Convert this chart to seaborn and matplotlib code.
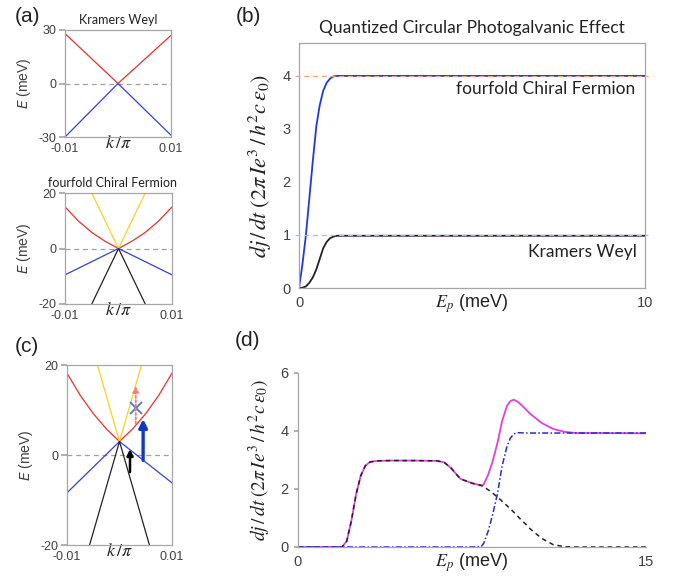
import matplotlib
matplotlib.use("Agg")
import matplotlib.pyplot as plt
import seaborn as sns

sns.set_theme(style="white")
plt.rcParams["font.family"] = ["Liberation Sans", "DejaVu Sans"]
plt.rcParams["mathtext.fontset"] = "stix"

# ---------------- data ----------------
# (a) Kramers Weyl bands
kw_k = [-0.01, 0.0, 0.01]
kw_upper = [28.0, 0.0, 27.0]
kw_lower = [-30.0, 0.0, -29.0]

# (a) fourfold chiral fermion bands
cf_k = [-0.01, -0.0075, -0.005, -0.0025, 0.0, 0.0025, 0.005, 0.0075, 0.01]
cf_red = [15.0, 9.9, 5.8, 2.6, 0.0, 2.6, 5.8, 9.9, 15.0]
cf_k_lin = [-0.01, 0.0, 0.01]
cf_blue = [-9.5, 0.0, -9.5]
cf_k_steep = [-0.005, 0.0, 0.005]
cf_yellow = [20.0, 0.0, 20.0]
cf_black = [-20.0, 0.0, -20.0]

# (c) shifted chiral fermion bands
c_k = [-0.01, -0.0075, -0.005, -0.0025, 0.0, 0.0025, 0.005, 0.0075, 0.01]
c_red = [18.2, 13.3, 9.2, 5.8, 3.0, 5.8, 9.2, 13.3, 18.2]
c_k_lin = [-0.01, 0.0, 0.01]
c_blue = [-8.4, 3.0, -6.2]
c_k_yellow = [-0.0042, 0.0, 0.0042]
c_yellow = [20.0, 3.0, 20.0]
c_k_black = [-0.0057, 0.0, 0.0057]
c_black = [-20.0, 3.0, -20.0]
# (c) transition arrows: k position, start energy, end energy
arrow_black = (0.002, -3.8, 1.3)
arrow_blue = (0.0045, -1.2, 8.0)
arrow_red = (0.0031, 7.0, 15.3)
cross_mark = (0.0031, 10.4)

# (b) quantized CPGE
b_ep = [0, 0.1, 0.2, 0.3, 0.4, 0.5, 0.6, 0.7, 0.8, 0.9, 1.0, 1.1, 1.2, 10]
b_fourfold = [0, 0.45, 1.0, 1.7, 2.4, 3.05, 3.45, 3.72, 3.87, 3.95, 3.99, 4.0, 4.0, 4.0]
b_kramers = [0, 0.005, 0.03, 0.1, 0.2, 0.35, 0.55, 0.75, 0.87, 0.94, 0.97, 0.985, 0.985, 0.985]
b_levels = [4, 1]

# (d) CPGE with shifted node
d_ep = [0, 1.9, 2.1, 2.3, 2.5, 2.7, 2.9, 3.1, 3.4, 4.0, 5.0, 6.0, 6.3, 6.6, 7.0,
        7.5, 7.9, 8.0, 8.2, 8.4, 8.6, 8.8, 9.0, 9.15, 9.3, 9.45, 9.6, 9.8, 10.0,
        10.5, 11.0, 11.5, 12.0, 13.0, 15.0]
d_black = [0, 0, 0.2, 0.9, 1.8, 2.45, 2.8, 2.93, 2.97, 2.98, 2.98, 2.97, 2.92, 2.72, 2.35,
           2.2, 2.12, 2.08, 1.97, 1.85, 1.72, 1.58, 1.43, 1.32, 1.2, 1.08, 0.95, 0.8, 0.63,
           0.3, 0.08, 0.01, 0, 0, 0]
d_blue = [0, 0, 0, 0, 0, 0, 0, 0, 0, 0, 0, 0, 0, 0, 0,
          0, 0.02, 0.12, 0.55, 1.15, 1.85, 2.8, 3.45, 3.75, 3.9, 3.94, 3.94, 3.93, 3.93,
          3.93, 3.93, 3.93, 3.93, 3.93, 3.93]
d_magenta = [0, 0, 0.2, 0.9, 1.8, 2.45, 2.8, 2.93, 2.97, 2.98, 2.98, 2.97, 2.92, 2.72, 2.35,
             2.2, 2.12, 2.15, 2.5, 2.98, 3.6, 4.35, 4.85, 5.03, 5.08, 5.02, 4.92, 4.76, 4.6,
             4.28, 4.07, 3.97, 3.93, 3.93, 3.92]

# ---------------- styling ----------------
SPINE = "#a6a6a6"
TICK = "#404040"
RED = "#e8302a"
BLUE = "#3340d8"
YELLOW = "#f7d21e"
BLACK = "#222222"
YLAB = r"$dj\,/\,dt\;(2\pi\, I e^3\,/\,h^2 c\,\epsilon_0)$"

fig = plt.figure(figsize=(6.74, 5.80), dpi=100)
W, H = 674, 580


def add_ax(left, top, right, bottom):
    return fig.add_axes([left / W, 1 - bottom / H, (right - left) / W, (bottom - top) / H])


def style_band(ax, ylim, yticks):
    ax.set_xlim(-0.01, 0.01)
    ax.set_ylim(*ylim)
    ax.set_yticks(yticks)
    ax.set_yticklabels([str(t) for t in yticks])
    ax.set_xticks([-0.01, 0.01])
    ax.set_xticklabels(["-0.01", "0.01"])
    for s in ax.spines.values():
        s.set_color(SPINE)
        s.set_linewidth(0.9)
    ax.tick_params(axis="y", length=4, color=SPINE, labelsize=9, labelcolor=TICK, pad=2, left=True)
    ax.tick_params(axis="x", length=0, labelsize=9, labelcolor=TICK, pad=4)
    ax.axhline(0, color="#a0a0a0", ls=(0, (4, 3)), lw=0.9, zorder=1)
    ax.set_ylabel(r"$E$ (meV)", fontsize=10, color=TICK, labelpad=4, math_fontfamily="dejavusans")
    ax.set_xlabel(r"$k\,/\pi$", fontsize=13, color=BLACK, labelpad=-14)


def line(ax, x, y, color, lw=1.0, **kw):
    sns.lineplot(x=x, y=y, ax=ax, color=color, lw=lw, estimator=None, sort=False, **kw)


# ---- (a) Kramers Weyl ----
axa1 = add_ax(65, 30, 171, 137)
line(axa1, kw_k, kw_upper, RED, 0.9)
line(axa1, kw_k, kw_lower, BLUE, 0.9)
style_band(axa1, (-30, 30), [-30, 0, 30])
axa1.set_title("Kramers Weyl", fontsize=9, family="Lato", color=BLACK, pad=4)

# ---- (a) fourfold chiral fermion ----
axa2 = add_ax(65, 193, 172, 304)
line(axa2, cf_k, cf_red, RED, 0.9)
line(axa2, cf_k_lin, cf_blue, BLUE, 0.9)
line(axa2, cf_k_steep, cf_yellow, YELLOW, 0.9)
line(axa2, cf_k_steep, cf_black, BLACK, 0.9)
style_band(axa2, (-20, 20), [-20, 0, 20])
axa2.set_title("fourfold Chiral Fermion", fontsize=9, family="Lato", color=BLACK, pad=4, x=0.44)

# ---- (c) ----
axc = add_ax(67, 365, 172, 545)
line(axc, c_k, c_red, RED, 0.9)
line(axc, c_k_lin, c_blue, BLUE, 0.9)
line(axc, c_k_yellow, c_yellow, YELLOW, 0.9)
line(axc, c_k_black, c_black, BLACK, 0.9)
style_band(axc, (-20, 20), [-20, 0, 20])
axc.annotate("", xy=(arrow_black[0], arrow_black[2]), xytext=(arrow_black[0], arrow_black[1]),
             arrowprops=dict(arrowstyle="-|>", color="black", lw=1.8, mutation_scale=9,
                             shrinkA=0, shrinkB=0))
axc.annotate("", xy=(arrow_blue[0], arrow_blue[2]), xytext=(arrow_blue[0], arrow_blue[1]),
             arrowprops=dict(arrowstyle="-|>", color="#1238c8", lw=2.4, mutation_scale=12,
                             shrinkA=0, shrinkB=0))
axc.annotate("", xy=(arrow_red[0], arrow_red[2]), xytext=(arrow_red[0], arrow_red[1]),
             arrowprops=dict(arrowstyle="-|>", color="#ff7b7b", lw=1.4, ls=(0, (1, 1.2)),
                             mutation_scale=8, shrinkA=0, shrinkB=0))
axc.plot([cross_mark[0]], [cross_mark[1]], marker="x", color="#4a7fd8", ms=8, mew=1.4)

# ---- (b) ----
axb = add_ax(299, 43, 645, 288)
line(axb, b_ep, b_fourfold, "#2038e0", 1.3)
line(axb, b_ep, b_kramers, BLACK, 1.3)
for lev, col in zip(b_levels, ["#f4a582", "#8ec6e8"]):
    axb.plot([-0.12, 10.1], [lev, lev], color=col, ls=(0, (4, 3)), lw=0.9, clip_on=False, zorder=3)
axb.set_xlim(0, 10)
axb.set_ylim(0, 4.62)
axb.set_yticks([0, 1, 2, 3, 4])
axb.set_xticks([0, 10])
for s in axb.spines.values():
    s.set_color(SPINE)
    s.set_linewidth(0.9)
axb.tick_params(axis="both", length=0, labelsize=10.5, labelcolor=TICK, pad=6)
axb.set_title("Quantized Circular Photogalvanic Effect", fontsize=12.5, family="Lato",
              color=BLACK, pad=7)
axb.text(9.72, 3.75, "fourfold Chiral Fermion", ha="right", va="center", fontsize=12.5,
         family="Lato", color=BLACK)
axb.text(9.77, 0.68, "Kramers Weyl", ha="right", va="center", fontsize=12.5,
         family="Lato", color=BLACK)
axb.set_xlabel(r"$E_p$ (meV)", fontsize=13, color=BLACK, labelpad=-13)
axb.set_ylabel(YLAB, fontsize=16, color=BLACK, labelpad=6)

# ---- (d) ----
axd = add_ax(298, 373, 646, 547)
line(axd, d_ep, d_magenta, "#e040e0", 1.3)
line(axd, d_ep, d_black, BLACK, 1.1, linestyle=(0, (3, 2.5)))
line(axd, d_ep, d_blue, "#2a2ad0", 1.1, linestyle=(0, (4, 1.5, 1, 1.5)))
axd.set_xlim(0, 15)
axd.set_ylim(0, 6)
axd.set_yticks([0, 2, 4, 6])
axd.set_xticks([0, 15])
axd.spines["top"].set_visible(False)
axd.spines["right"].set_visible(False)
for s in ["left", "bottom"]:
    axd.spines[s].set_color(SPINE)
    axd.spines[s].set_linewidth(0.9)
axd.tick_params(axis="y", length=3, color=SPINE, labelsize=10.5, labelcolor=TICK, pad=4, left=True)
axd.tick_params(axis="x", length=0, labelsize=10.5, labelcolor=TICK, pad=6)
axd.set_xlabel(r"$E_p$ (meV)", fontsize=13, color=BLACK, labelpad=-13)
axd.set_ylabel(YLAB, fontsize=14, color=BLACK, labelpad=5)

# panel labels
for lab, x, y in [("(a)", 27, 17), ("(b)", 248, 17), ("(c)", 27, 347), ("(d)", 248, 341)]:
    fig.text(x / W, 1 - y / H, lab, ha="center", va="center", fontsize=15, color=BLACK)

fig.savefig("out.png", dpi=100)
